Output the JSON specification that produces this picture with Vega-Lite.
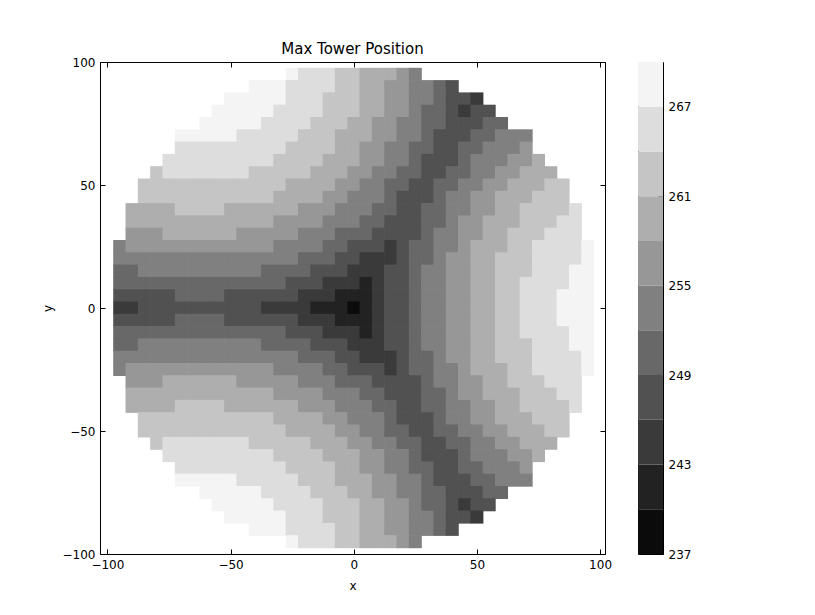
{
"$schema": "https://vega.github.io/schema/vega-lite/v6.json",
"background": "white",
"padding": {"left": 40, "top": 41, "right": 10, "bottom": 10},
"spacing": 33,
"bounds": "flush",
"config": {
"font": "DejaVu Sans",
"view": {"stroke": "black", "strokeWidth": 1},
"axis": {"grid": false, "domain": false, "ticks": true, "tickColor": "black", "tickSize": -5, "tickWidth": 1, "labelColor": "black", "labelFont": "DejaVu Sans", "labelFontSize": 12, "labelPadding": 10, "labelFlush": false, "titleFont": "DejaVu Sans", "titleFontSize": 12, "titleFontWeight": "normal", "titleColor": "black", "zindex": 2},
"title": {"font": "DejaVu Sans", "fontSize": 15, "fontWeight": "normal", "color": "black"}
},
"hconcat": [
{
"width": 505, "height": 492,
"title": {"text": "Max Tower Position", "offset": -1, "anchor": "middle", "frame": "group"},
"data": {"values": [
{"x":-25,"y":95,"v":267},{"x":-20,"y":95,"v":264},{"x":-15,"y":95,"v":264},{"x":-10,"y":95,"v":264},{"x":-5,"y":95,"v":261},{"x":0,"y":95,"v":261},{"x":5,"y":95,"v":258},{"x":10,"y":95,"v":258},{"x":15,"y":95,"v":258},{"x":20,"y":95,"v":255},{"x":25,"y":95,"v":252},
{"x":-40,"y":90,"v":267},{"x":-35,"y":90,"v":267},{"x":-30,"y":90,"v":267},{"x":-25,"y":90,"v":264},{"x":-20,"y":90,"v":264},{"x":-15,"y":90,"v":264},{"x":-10,"y":90,"v":264},{"x":-5,"y":90,"v":261},{"x":0,"y":90,"v":261},{"x":5,"y":90,"v":258},{"x":10,"y":90,"v":258},{"x":15,"y":90,"v":255},{"x":20,"y":90,"v":255},{"x":25,"y":90,"v":252},{"x":30,"y":90,"v":252},{"x":35,"y":90,"v":249},{"x":40,"y":90,"v":246},
{"x":-50,"y":85,"v":267},{"x":-45,"y":85,"v":267},{"x":-40,"y":85,"v":267},{"x":-35,"y":85,"v":267},{"x":-30,"y":85,"v":267},{"x":-25,"y":85,"v":264},{"x":-20,"y":85,"v":264},{"x":-15,"y":85,"v":264},{"x":-10,"y":85,"v":261},{"x":-5,"y":85,"v":261},{"x":0,"y":85,"v":261},{"x":5,"y":85,"v":258},{"x":10,"y":85,"v":258},{"x":15,"y":85,"v":255},{"x":20,"y":85,"v":255},{"x":25,"y":85,"v":252},{"x":30,"y":85,"v":252},{"x":35,"y":85,"v":249},{"x":40,"y":85,"v":246},{"x":45,"y":85,"v":246},{"x":50,"y":85,"v":243},
{"x":-55,"y":80,"v":267},{"x":-50,"y":80,"v":267},{"x":-45,"y":80,"v":267},{"x":-40,"y":80,"v":267},{"x":-35,"y":80,"v":267},{"x":-30,"y":80,"v":264},{"x":-25,"y":80,"v":264},{"x":-20,"y":80,"v":264},{"x":-15,"y":80,"v":264},{"x":-10,"y":80,"v":261},{"x":-5,"y":80,"v":261},{"x":0,"y":80,"v":261},{"x":5,"y":80,"v":258},{"x":10,"y":80,"v":258},{"x":15,"y":80,"v":255},{"x":20,"y":80,"v":255},{"x":25,"y":80,"v":252},{"x":30,"y":80,"v":249},{"x":35,"y":80,"v":249},{"x":40,"y":80,"v":246},{"x":45,"y":80,"v":243},{"x":50,"y":80,"v":246},{"x":55,"y":80,"v":246},
{"x":-60,"y":75,"v":267},{"x":-55,"y":75,"v":267},{"x":-50,"y":75,"v":267},{"x":-45,"y":75,"v":267},{"x":-40,"y":75,"v":267},{"x":-35,"y":75,"v":264},{"x":-30,"y":75,"v":264},{"x":-25,"y":75,"v":264},{"x":-20,"y":75,"v":264},{"x":-15,"y":75,"v":261},{"x":-10,"y":75,"v":261},{"x":-5,"y":75,"v":261},{"x":0,"y":75,"v":258},{"x":5,"y":75,"v":258},{"x":10,"y":75,"v":255},{"x":15,"y":75,"v":255},{"x":20,"y":75,"v":252},{"x":25,"y":75,"v":252},{"x":30,"y":75,"v":249},{"x":35,"y":75,"v":249},{"x":40,"y":75,"v":246},{"x":45,"y":75,"v":246},{"x":50,"y":75,"v":246},{"x":55,"y":75,"v":249},{"x":60,"y":75,"v":249},
{"x":-70,"y":70,"v":267},{"x":-65,"y":70,"v":267},{"x":-60,"y":70,"v":267},{"x":-55,"y":70,"v":267},{"x":-50,"y":70,"v":267},{"x":-45,"y":70,"v":264},{"x":-40,"y":70,"v":264},{"x":-35,"y":70,"v":264},{"x":-30,"y":70,"v":264},{"x":-25,"y":70,"v":264},{"x":-20,"y":70,"v":261},{"x":-15,"y":70,"v":261},{"x":-10,"y":70,"v":261},{"x":-5,"y":70,"v":258},{"x":0,"y":70,"v":258},{"x":5,"y":70,"v":258},{"x":10,"y":70,"v":255},{"x":15,"y":70,"v":255},{"x":20,"y":70,"v":252},{"x":25,"y":70,"v":252},{"x":30,"y":70,"v":249},{"x":35,"y":70,"v":246},{"x":40,"y":70,"v":246},{"x":45,"y":70,"v":246},{"x":50,"y":70,"v":249},{"x":55,"y":70,"v":249},{"x":60,"y":70,"v":252},{"x":65,"y":70,"v":252},{"x":70,"y":70,"v":252},
{"x":-70,"y":65,"v":264},{"x":-65,"y":65,"v":264},{"x":-60,"y":65,"v":264},{"x":-55,"y":65,"v":264},{"x":-50,"y":65,"v":264},{"x":-45,"y":65,"v":264},{"x":-40,"y":65,"v":264},{"x":-35,"y":65,"v":264},{"x":-30,"y":65,"v":264},{"x":-25,"y":65,"v":261},{"x":-20,"y":65,"v":261},{"x":-15,"y":65,"v":261},{"x":-10,"y":65,"v":261},{"x":-5,"y":65,"v":258},{"x":0,"y":65,"v":258},{"x":5,"y":65,"v":255},{"x":10,"y":65,"v":255},{"x":15,"y":65,"v":252},{"x":20,"y":65,"v":252},{"x":25,"y":65,"v":249},{"x":30,"y":65,"v":249},{"x":35,"y":65,"v":246},{"x":40,"y":65,"v":246},{"x":45,"y":65,"v":249},{"x":50,"y":65,"v":249},{"x":55,"y":65,"v":252},{"x":60,"y":65,"v":252},{"x":65,"y":65,"v":252},{"x":70,"y":65,"v":255},
{"x":-75,"y":60,"v":264},{"x":-70,"y":60,"v":264},{"x":-65,"y":60,"v":264},{"x":-60,"y":60,"v":264},{"x":-55,"y":60,"v":264},{"x":-50,"y":60,"v":264},{"x":-45,"y":60,"v":264},{"x":-40,"y":60,"v":264},{"x":-35,"y":60,"v":264},{"x":-30,"y":60,"v":261},{"x":-25,"y":60,"v":261},{"x":-20,"y":60,"v":261},{"x":-15,"y":60,"v":261},{"x":-10,"y":60,"v":258},{"x":-5,"y":60,"v":258},{"x":0,"y":60,"v":258},{"x":5,"y":60,"v":255},{"x":10,"y":60,"v":255},{"x":15,"y":60,"v":252},{"x":20,"y":60,"v":252},{"x":25,"y":60,"v":249},{"x":30,"y":60,"v":246},{"x":35,"y":60,"v":246},{"x":40,"y":60,"v":246},{"x":45,"y":60,"v":249},{"x":50,"y":60,"v":252},{"x":55,"y":60,"v":252},{"x":60,"y":60,"v":252},{"x":65,"y":60,"v":255},{"x":70,"y":60,"v":255},{"x":75,"y":60,"v":258},
{"x":-80,"y":55,"v":261},{"x":-75,"y":55,"v":264},{"x":-70,"y":55,"v":264},{"x":-65,"y":55,"v":264},{"x":-60,"y":55,"v":264},{"x":-55,"y":55,"v":264},{"x":-50,"y":55,"v":264},{"x":-45,"y":55,"v":264},{"x":-40,"y":55,"v":261},{"x":-35,"y":55,"v":261},{"x":-30,"y":55,"v":261},{"x":-25,"y":55,"v":261},{"x":-20,"y":55,"v":261},{"x":-15,"y":55,"v":258},{"x":-10,"y":55,"v":258},{"x":-5,"y":55,"v":258},{"x":0,"y":55,"v":255},{"x":5,"y":55,"v":255},{"x":10,"y":55,"v":252},{"x":15,"y":55,"v":252},{"x":20,"y":55,"v":249},{"x":25,"y":55,"v":249},{"x":30,"y":55,"v":246},{"x":35,"y":55,"v":246},{"x":40,"y":55,"v":249},{"x":45,"y":55,"v":249},{"x":50,"y":55,"v":252},{"x":55,"y":55,"v":252},{"x":60,"y":55,"v":255},{"x":65,"y":55,"v":255},{"x":70,"y":55,"v":258},{"x":75,"y":55,"v":258},{"x":80,"y":55,"v":258},
{"x":-85,"y":50,"v":261},{"x":-80,"y":50,"v":261},{"x":-75,"y":50,"v":261},{"x":-70,"y":50,"v":261},{"x":-65,"y":50,"v":261},{"x":-60,"y":50,"v":261},{"x":-55,"y":50,"v":261},{"x":-50,"y":50,"v":261},{"x":-45,"y":50,"v":261},{"x":-40,"y":50,"v":261},{"x":-35,"y":50,"v":261},{"x":-30,"y":50,"v":261},{"x":-25,"y":50,"v":258},{"x":-20,"y":50,"v":258},{"x":-15,"y":50,"v":258},{"x":-10,"y":50,"v":258},{"x":-5,"y":50,"v":255},{"x":0,"y":50,"v":255},{"x":5,"y":50,"v":252},{"x":10,"y":50,"v":252},{"x":15,"y":50,"v":249},{"x":20,"y":50,"v":249},{"x":25,"y":50,"v":246},{"x":30,"y":50,"v":246},{"x":35,"y":50,"v":249},{"x":40,"y":50,"v":249},{"x":45,"y":50,"v":252},{"x":50,"y":50,"v":252},{"x":55,"y":50,"v":255},{"x":60,"y":50,"v":255},{"x":65,"y":50,"v":258},{"x":70,"y":50,"v":258},{"x":75,"y":50,"v":258},{"x":80,"y":50,"v":261},{"x":85,"y":50,"v":261},
{"x":-85,"y":45,"v":261},{"x":-80,"y":45,"v":261},{"x":-75,"y":45,"v":261},{"x":-70,"y":45,"v":261},{"x":-65,"y":45,"v":261},{"x":-60,"y":45,"v":261},{"x":-55,"y":45,"v":261},{"x":-50,"y":45,"v":261},{"x":-45,"y":45,"v":261},{"x":-40,"y":45,"v":261},{"x":-35,"y":45,"v":261},{"x":-30,"y":45,"v":258},{"x":-25,"y":45,"v":258},{"x":-20,"y":45,"v":258},{"x":-15,"y":45,"v":258},{"x":-10,"y":45,"v":255},{"x":-5,"y":45,"v":255},{"x":0,"y":45,"v":252},{"x":5,"y":45,"v":252},{"x":10,"y":45,"v":252},{"x":15,"y":45,"v":249},{"x":20,"y":45,"v":246},{"x":25,"y":45,"v":246},{"x":30,"y":45,"v":246},{"x":35,"y":45,"v":249},{"x":40,"y":45,"v":252},{"x":45,"y":45,"v":252},{"x":50,"y":45,"v":255},{"x":55,"y":45,"v":255},{"x":60,"y":45,"v":258},{"x":65,"y":45,"v":258},{"x":70,"y":45,"v":258},{"x":75,"y":45,"v":261},{"x":80,"y":45,"v":261},{"x":85,"y":45,"v":261},
{"x":-90,"y":40,"v":258},{"x":-85,"y":40,"v":258},{"x":-80,"y":40,"v":258},{"x":-75,"y":40,"v":258},{"x":-70,"y":40,"v":261},{"x":-65,"y":40,"v":261},{"x":-60,"y":40,"v":261},{"x":-55,"y":40,"v":261},{"x":-50,"y":40,"v":258},{"x":-45,"y":40,"v":258},{"x":-40,"y":40,"v":258},{"x":-35,"y":40,"v":258},{"x":-30,"y":40,"v":258},{"x":-25,"y":40,"v":258},{"x":-20,"y":40,"v":255},{"x":-15,"y":40,"v":255},{"x":-10,"y":40,"v":255},{"x":-5,"y":40,"v":252},{"x":0,"y":40,"v":252},{"x":5,"y":40,"v":252},{"x":10,"y":40,"v":249},{"x":15,"y":40,"v":249},{"x":20,"y":40,"v":246},{"x":25,"y":40,"v":246},{"x":30,"y":40,"v":249},{"x":35,"y":40,"v":249},{"x":40,"y":40,"v":252},{"x":45,"y":40,"v":252},{"x":50,"y":40,"v":255},{"x":55,"y":40,"v":255},{"x":60,"y":40,"v":258},{"x":65,"y":40,"v":258},{"x":70,"y":40,"v":261},{"x":75,"y":40,"v":261},{"x":80,"y":40,"v":261},{"x":85,"y":40,"v":261},{"x":90,"y":40,"v":264},
{"x":-90,"y":35,"v":258},{"x":-85,"y":35,"v":258},{"x":-80,"y":35,"v":258},{"x":-75,"y":35,"v":258},{"x":-70,"y":35,"v":258},{"x":-65,"y":35,"v":258},{"x":-60,"y":35,"v":258},{"x":-55,"y":35,"v":258},{"x":-50,"y":35,"v":258},{"x":-45,"y":35,"v":258},{"x":-40,"y":35,"v":258},{"x":-35,"y":35,"v":258},{"x":-30,"y":35,"v":255},{"x":-25,"y":35,"v":255},{"x":-20,"y":35,"v":255},{"x":-15,"y":35,"v":255},{"x":-10,"y":35,"v":252},{"x":-5,"y":35,"v":252},{"x":0,"y":35,"v":252},{"x":5,"y":35,"v":249},{"x":10,"y":35,"v":249},{"x":15,"y":35,"v":246},{"x":20,"y":35,"v":246},{"x":25,"y":35,"v":246},{"x":30,"y":35,"v":249},{"x":35,"y":35,"v":249},{"x":40,"y":35,"v":252},{"x":45,"y":35,"v":255},{"x":50,"y":35,"v":255},{"x":55,"y":35,"v":258},{"x":60,"y":35,"v":258},{"x":65,"y":35,"v":258},{"x":70,"y":35,"v":261},{"x":75,"y":35,"v":261},{"x":80,"y":35,"v":261},{"x":85,"y":35,"v":264},{"x":90,"y":35,"v":264},
{"x":-90,"y":30,"v":255},{"x":-85,"y":30,"v":255},{"x":-80,"y":30,"v":255},{"x":-75,"y":30,"v":258},{"x":-70,"y":30,"v":258},{"x":-65,"y":30,"v":258},{"x":-60,"y":30,"v":258},{"x":-55,"y":30,"v":258},{"x":-50,"y":30,"v":258},{"x":-45,"y":30,"v":255},{"x":-40,"y":30,"v":255},{"x":-35,"y":30,"v":255},{"x":-30,"y":30,"v":255},{"x":-25,"y":30,"v":255},{"x":-20,"y":30,"v":252},{"x":-15,"y":30,"v":252},{"x":-10,"y":30,"v":252},{"x":-5,"y":30,"v":249},{"x":0,"y":30,"v":249},{"x":5,"y":30,"v":249},{"x":10,"y":30,"v":246},{"x":15,"y":30,"v":246},{"x":20,"y":30,"v":246},{"x":25,"y":30,"v":246},{"x":30,"y":30,"v":249},{"x":35,"y":30,"v":252},{"x":40,"y":30,"v":252},{"x":45,"y":30,"v":255},{"x":50,"y":30,"v":255},{"x":55,"y":30,"v":258},{"x":60,"y":30,"v":258},{"x":65,"y":30,"v":261},{"x":70,"y":30,"v":261},{"x":75,"y":30,"v":261},{"x":80,"y":30,"v":264},{"x":85,"y":30,"v":264},{"x":90,"y":30,"v":264},
{"x":-95,"y":25,"v":252},{"x":-90,"y":25,"v":255},{"x":-85,"y":25,"v":255},{"x":-80,"y":25,"v":255},{"x":-75,"y":25,"v":255},{"x":-70,"y":25,"v":255},{"x":-65,"y":25,"v":255},{"x":-60,"y":25,"v":255},{"x":-55,"y":25,"v":255},{"x":-50,"y":25,"v":255},{"x":-45,"y":25,"v":255},{"x":-40,"y":25,"v":255},{"x":-35,"y":25,"v":255},{"x":-30,"y":25,"v":252},{"x":-25,"y":25,"v":252},{"x":-20,"y":25,"v":252},{"x":-15,"y":25,"v":252},{"x":-10,"y":25,"v":249},{"x":-5,"y":25,"v":249},{"x":0,"y":25,"v":246},{"x":5,"y":25,"v":246},{"x":10,"y":25,"v":246},{"x":15,"y":25,"v":243},{"x":20,"y":25,"v":246},{"x":25,"y":25,"v":249},{"x":30,"y":25,"v":249},{"x":35,"y":25,"v":252},{"x":40,"y":25,"v":252},{"x":45,"y":25,"v":255},{"x":50,"y":25,"v":258},{"x":55,"y":25,"v":258},{"x":60,"y":25,"v":258},{"x":65,"y":25,"v":261},{"x":70,"y":25,"v":261},{"x":75,"y":25,"v":264},{"x":80,"y":25,"v":264},{"x":85,"y":25,"v":264},{"x":90,"y":25,"v":264},{"x":95,"y":25,"v":267},
{"x":-95,"y":20,"v":252},{"x":-90,"y":20,"v":252},{"x":-85,"y":20,"v":252},{"x":-80,"y":20,"v":252},{"x":-75,"y":20,"v":252},{"x":-70,"y":20,"v":252},{"x":-65,"y":20,"v":252},{"x":-60,"y":20,"v":252},{"x":-55,"y":20,"v":252},{"x":-50,"y":20,"v":252},{"x":-45,"y":20,"v":252},{"x":-40,"y":20,"v":252},{"x":-35,"y":20,"v":252},{"x":-30,"y":20,"v":252},{"x":-25,"y":20,"v":252},{"x":-20,"y":20,"v":249},{"x":-15,"y":20,"v":249},{"x":-10,"y":20,"v":249},{"x":-5,"y":20,"v":246},{"x":0,"y":20,"v":246},{"x":5,"y":20,"v":243},{"x":10,"y":20,"v":243},{"x":15,"y":20,"v":243},{"x":20,"y":20,"v":246},{"x":25,"y":20,"v":249},{"x":30,"y":20,"v":249},{"x":35,"y":20,"v":252},{"x":40,"y":20,"v":255},{"x":45,"y":20,"v":255},{"x":50,"y":20,"v":258},{"x":55,"y":20,"v":258},{"x":60,"y":20,"v":261},{"x":65,"y":20,"v":261},{"x":70,"y":20,"v":261},{"x":75,"y":20,"v":264},{"x":80,"y":20,"v":264},{"x":85,"y":20,"v":264},{"x":90,"y":20,"v":264},{"x":95,"y":20,"v":267},
{"x":-95,"y":15,"v":249},{"x":-90,"y":15,"v":249},{"x":-85,"y":15,"v":252},{"x":-80,"y":15,"v":252},{"x":-75,"y":15,"v":252},{"x":-70,"y":15,"v":252},{"x":-65,"y":15,"v":252},{"x":-60,"y":15,"v":252},{"x":-55,"y":15,"v":252},{"x":-50,"y":15,"v":252},{"x":-45,"y":15,"v":252},{"x":-40,"y":15,"v":252},{"x":-35,"y":15,"v":249},{"x":-30,"y":15,"v":249},{"x":-25,"y":15,"v":249},{"x":-20,"y":15,"v":249},{"x":-15,"y":15,"v":246},{"x":-10,"y":15,"v":246},{"x":-5,"y":15,"v":246},{"x":0,"y":15,"v":243},{"x":5,"y":15,"v":243},{"x":10,"y":15,"v":243},{"x":15,"y":15,"v":246},{"x":20,"y":15,"v":246},{"x":25,"y":15,"v":249},{"x":30,"y":15,"v":252},{"x":35,"y":15,"v":252},{"x":40,"y":15,"v":255},{"x":45,"y":15,"v":255},{"x":50,"y":15,"v":258},{"x":55,"y":15,"v":258},{"x":60,"y":15,"v":261},{"x":65,"y":15,"v":261},{"x":70,"y":15,"v":261},{"x":75,"y":15,"v":264},{"x":80,"y":15,"v":264},{"x":85,"y":15,"v":264},{"x":90,"y":15,"v":267},{"x":95,"y":15,"v":267},
{"x":-95,"y":10,"v":249},{"x":-90,"y":10,"v":249},{"x":-85,"y":10,"v":249},{"x":-80,"y":10,"v":249},{"x":-75,"y":10,"v":249},{"x":-70,"y":10,"v":249},{"x":-65,"y":10,"v":249},{"x":-60,"y":10,"v":249},{"x":-55,"y":10,"v":249},{"x":-50,"y":10,"v":249},{"x":-45,"y":10,"v":249},{"x":-40,"y":10,"v":249},{"x":-35,"y":10,"v":249},{"x":-30,"y":10,"v":249},{"x":-25,"y":10,"v":246},{"x":-20,"y":10,"v":246},{"x":-15,"y":10,"v":246},{"x":-10,"y":10,"v":243},{"x":-5,"y":10,"v":243},{"x":0,"y":10,"v":243},{"x":5,"y":10,"v":240},{"x":10,"y":10,"v":243},{"x":15,"y":10,"v":246},{"x":20,"y":10,"v":246},{"x":25,"y":10,"v":249},{"x":30,"y":10,"v":252},{"x":35,"y":10,"v":252},{"x":40,"y":10,"v":255},{"x":45,"y":10,"v":255},{"x":50,"y":10,"v":258},{"x":55,"y":10,"v":258},{"x":60,"y":10,"v":261},{"x":65,"y":10,"v":261},{"x":70,"y":10,"v":264},{"x":75,"y":10,"v":264},{"x":80,"y":10,"v":264},{"x":85,"y":10,"v":264},{"x":90,"y":10,"v":267},{"x":95,"y":10,"v":267},
{"x":-95,"y":5,"v":246},{"x":-90,"y":5,"v":246},{"x":-85,"y":5,"v":246},{"x":-80,"y":5,"v":246},{"x":-75,"y":5,"v":246},{"x":-70,"y":5,"v":249},{"x":-65,"y":5,"v":249},{"x":-60,"y":5,"v":249},{"x":-55,"y":5,"v":249},{"x":-50,"y":5,"v":246},{"x":-45,"y":5,"v":246},{"x":-40,"y":5,"v":246},{"x":-35,"y":5,"v":246},{"x":-30,"y":5,"v":246},{"x":-25,"y":5,"v":246},{"x":-20,"y":5,"v":243},{"x":-15,"y":5,"v":243},{"x":-10,"y":5,"v":243},{"x":-5,"y":5,"v":240},{"x":0,"y":5,"v":240},{"x":5,"y":5,"v":240},{"x":10,"y":5,"v":243},{"x":15,"y":5,"v":246},{"x":20,"y":5,"v":246},{"x":25,"y":5,"v":249},{"x":30,"y":5,"v":252},{"x":35,"y":5,"v":252},{"x":40,"y":5,"v":255},{"x":45,"y":5,"v":255},{"x":50,"y":5,"v":258},{"x":55,"y":5,"v":258},{"x":60,"y":5,"v":261},{"x":65,"y":5,"v":261},{"x":70,"y":5,"v":264},{"x":75,"y":5,"v":264},{"x":80,"y":5,"v":264},{"x":85,"y":5,"v":267},{"x":90,"y":5,"v":267},{"x":95,"y":5,"v":267},
{"x":-95,"y":0,"v":243},{"x":-90,"y":0,"v":243},{"x":-85,"y":0,"v":246},{"x":-80,"y":0,"v":246},{"x":-75,"y":0,"v":246},{"x":-70,"y":0,"v":246},{"x":-65,"y":0,"v":246},{"x":-60,"y":0,"v":246},{"x":-55,"y":0,"v":246},{"x":-50,"y":0,"v":246},{"x":-45,"y":0,"v":246},{"x":-40,"y":0,"v":246},{"x":-35,"y":0,"v":243},{"x":-30,"y":0,"v":243},{"x":-25,"y":0,"v":243},{"x":-20,"y":0,"v":243},{"x":-15,"y":0,"v":240},{"x":-10,"y":0,"v":240},{"x":-5,"y":0,"v":240},{"x":0,"y":0,"v":237},{"x":5,"y":0,"v":240},{"x":10,"y":0,"v":243},{"x":15,"y":0,"v":246},{"x":20,"y":0,"v":246},{"x":25,"y":0,"v":249},{"x":30,"y":0,"v":252},{"x":35,"y":0,"v":252},{"x":40,"y":0,"v":255},{"x":45,"y":0,"v":255},{"x":50,"y":0,"v":258},{"x":55,"y":0,"v":258},{"x":60,"y":0,"v":261},{"x":65,"y":0,"v":261},{"x":70,"y":0,"v":264},{"x":75,"y":0,"v":264},{"x":80,"y":0,"v":264},{"x":85,"y":0,"v":267},{"x":90,"y":0,"v":267},{"x":95,"y":0,"v":267},
{"x":-95,"y":-5,"v":246},{"x":-90,"y":-5,"v":246},{"x":-85,"y":-5,"v":246},{"x":-80,"y":-5,"v":246},{"x":-75,"y":-5,"v":246},{"x":-70,"y":-5,"v":249},{"x":-65,"y":-5,"v":249},{"x":-60,"y":-5,"v":249},{"x":-55,"y":-5,"v":249},{"x":-50,"y":-5,"v":246},{"x":-45,"y":-5,"v":246},{"x":-40,"y":-5,"v":246},{"x":-35,"y":-5,"v":246},{"x":-30,"y":-5,"v":246},{"x":-25,"y":-5,"v":246},{"x":-20,"y":-5,"v":243},{"x":-15,"y":-5,"v":243},{"x":-10,"y":-5,"v":243},{"x":-5,"y":-5,"v":240},{"x":0,"y":-5,"v":240},{"x":5,"y":-5,"v":240},{"x":10,"y":-5,"v":243},{"x":15,"y":-5,"v":246},{"x":20,"y":-5,"v":246},{"x":25,"y":-5,"v":249},{"x":30,"y":-5,"v":252},{"x":35,"y":-5,"v":252},{"x":40,"y":-5,"v":255},{"x":45,"y":-5,"v":255},{"x":50,"y":-5,"v":258},{"x":55,"y":-5,"v":258},{"x":60,"y":-5,"v":261},{"x":65,"y":-5,"v":261},{"x":70,"y":-5,"v":264},{"x":75,"y":-5,"v":264},{"x":80,"y":-5,"v":264},{"x":85,"y":-5,"v":267},{"x":90,"y":-5,"v":267},{"x":95,"y":-5,"v":267},
{"x":-95,"y":-10,"v":249},{"x":-90,"y":-10,"v":249},{"x":-85,"y":-10,"v":249},{"x":-80,"y":-10,"v":249},{"x":-75,"y":-10,"v":249},{"x":-70,"y":-10,"v":249},{"x":-65,"y":-10,"v":249},{"x":-60,"y":-10,"v":249},{"x":-55,"y":-10,"v":249},{"x":-50,"y":-10,"v":249},{"x":-45,"y":-10,"v":249},{"x":-40,"y":-10,"v":249},{"x":-35,"y":-10,"v":249},{"x":-30,"y":-10,"v":249},{"x":-25,"y":-10,"v":246},{"x":-20,"y":-10,"v":246},{"x":-15,"y":-10,"v":246},{"x":-10,"y":-10,"v":243},{"x":-5,"y":-10,"v":243},{"x":0,"y":-10,"v":243},{"x":5,"y":-10,"v":240},{"x":10,"y":-10,"v":243},{"x":15,"y":-10,"v":246},{"x":20,"y":-10,"v":246},{"x":25,"y":-10,"v":249},{"x":30,"y":-10,"v":252},{"x":35,"y":-10,"v":252},{"x":40,"y":-10,"v":255},{"x":45,"y":-10,"v":255},{"x":50,"y":-10,"v":258},{"x":55,"y":-10,"v":258},{"x":60,"y":-10,"v":261},{"x":65,"y":-10,"v":261},{"x":70,"y":-10,"v":264},{"x":75,"y":-10,"v":264},{"x":80,"y":-10,"v":264},{"x":85,"y":-10,"v":264},{"x":90,"y":-10,"v":267},{"x":95,"y":-10,"v":267},
{"x":-95,"y":-15,"v":249},{"x":-90,"y":-15,"v":249},{"x":-85,"y":-15,"v":252},{"x":-80,"y":-15,"v":252},{"x":-75,"y":-15,"v":252},{"x":-70,"y":-15,"v":252},{"x":-65,"y":-15,"v":252},{"x":-60,"y":-15,"v":252},{"x":-55,"y":-15,"v":252},{"x":-50,"y":-15,"v":252},{"x":-45,"y":-15,"v":252},{"x":-40,"y":-15,"v":252},{"x":-35,"y":-15,"v":249},{"x":-30,"y":-15,"v":249},{"x":-25,"y":-15,"v":249},{"x":-20,"y":-15,"v":249},{"x":-15,"y":-15,"v":246},{"x":-10,"y":-15,"v":246},{"x":-5,"y":-15,"v":246},{"x":0,"y":-15,"v":243},{"x":5,"y":-15,"v":243},{"x":10,"y":-15,"v":243},{"x":15,"y":-15,"v":246},{"x":20,"y":-15,"v":246},{"x":25,"y":-15,"v":249},{"x":30,"y":-15,"v":252},{"x":35,"y":-15,"v":252},{"x":40,"y":-15,"v":255},{"x":45,"y":-15,"v":255},{"x":50,"y":-15,"v":258},{"x":55,"y":-15,"v":258},{"x":60,"y":-15,"v":261},{"x":65,"y":-15,"v":261},{"x":70,"y":-15,"v":261},{"x":75,"y":-15,"v":264},{"x":80,"y":-15,"v":264},{"x":85,"y":-15,"v":264},{"x":90,"y":-15,"v":267},{"x":95,"y":-15,"v":267},
{"x":-95,"y":-20,"v":252},{"x":-90,"y":-20,"v":252},{"x":-85,"y":-20,"v":252},{"x":-80,"y":-20,"v":252},{"x":-75,"y":-20,"v":252},{"x":-70,"y":-20,"v":252},{"x":-65,"y":-20,"v":252},{"x":-60,"y":-20,"v":252},{"x":-55,"y":-20,"v":252},{"x":-50,"y":-20,"v":252},{"x":-45,"y":-20,"v":252},{"x":-40,"y":-20,"v":252},{"x":-35,"y":-20,"v":252},{"x":-30,"y":-20,"v":252},{"x":-25,"y":-20,"v":252},{"x":-20,"y":-20,"v":249},{"x":-15,"y":-20,"v":249},{"x":-10,"y":-20,"v":249},{"x":-5,"y":-20,"v":246},{"x":0,"y":-20,"v":246},{"x":5,"y":-20,"v":243},{"x":10,"y":-20,"v":243},{"x":15,"y":-20,"v":243},{"x":20,"y":-20,"v":246},{"x":25,"y":-20,"v":249},{"x":30,"y":-20,"v":249},{"x":35,"y":-20,"v":252},{"x":40,"y":-20,"v":255},{"x":45,"y":-20,"v":255},{"x":50,"y":-20,"v":258},{"x":55,"y":-20,"v":258},{"x":60,"y":-20,"v":261},{"x":65,"y":-20,"v":261},{"x":70,"y":-20,"v":261},{"x":75,"y":-20,"v":264},{"x":80,"y":-20,"v":264},{"x":85,"y":-20,"v":264},{"x":90,"y":-20,"v":264},{"x":95,"y":-20,"v":267},
{"x":-95,"y":-25,"v":252},{"x":-90,"y":-25,"v":255},{"x":-85,"y":-25,"v":255},{"x":-80,"y":-25,"v":255},{"x":-75,"y":-25,"v":255},{"x":-70,"y":-25,"v":255},{"x":-65,"y":-25,"v":255},{"x":-60,"y":-25,"v":255},{"x":-55,"y":-25,"v":255},{"x":-50,"y":-25,"v":255},{"x":-45,"y":-25,"v":255},{"x":-40,"y":-25,"v":255},{"x":-35,"y":-25,"v":255},{"x":-30,"y":-25,"v":252},{"x":-25,"y":-25,"v":252},{"x":-20,"y":-25,"v":252},{"x":-15,"y":-25,"v":252},{"x":-10,"y":-25,"v":249},{"x":-5,"y":-25,"v":249},{"x":0,"y":-25,"v":246},{"x":5,"y":-25,"v":246},{"x":10,"y":-25,"v":246},{"x":15,"y":-25,"v":243},{"x":20,"y":-25,"v":246},{"x":25,"y":-25,"v":249},{"x":30,"y":-25,"v":249},{"x":35,"y":-25,"v":252},{"x":40,"y":-25,"v":252},{"x":45,"y":-25,"v":255},{"x":50,"y":-25,"v":258},{"x":55,"y":-25,"v":258},{"x":60,"y":-25,"v":258},{"x":65,"y":-25,"v":261},{"x":70,"y":-25,"v":261},{"x":75,"y":-25,"v":264},{"x":80,"y":-25,"v":264},{"x":85,"y":-25,"v":264},{"x":90,"y":-25,"v":264},{"x":95,"y":-25,"v":267},
{"x":-90,"y":-30,"v":255},{"x":-85,"y":-30,"v":255},{"x":-80,"y":-30,"v":255},{"x":-75,"y":-30,"v":258},{"x":-70,"y":-30,"v":258},{"x":-65,"y":-30,"v":258},{"x":-60,"y":-30,"v":258},{"x":-55,"y":-30,"v":258},{"x":-50,"y":-30,"v":258},{"x":-45,"y":-30,"v":255},{"x":-40,"y":-30,"v":255},{"x":-35,"y":-30,"v":255},{"x":-30,"y":-30,"v":255},{"x":-25,"y":-30,"v":255},{"x":-20,"y":-30,"v":252},{"x":-15,"y":-30,"v":252},{"x":-10,"y":-30,"v":252},{"x":-5,"y":-30,"v":249},{"x":0,"y":-30,"v":249},{"x":5,"y":-30,"v":249},{"x":10,"y":-30,"v":246},{"x":15,"y":-30,"v":246},{"x":20,"y":-30,"v":246},{"x":25,"y":-30,"v":246},{"x":30,"y":-30,"v":249},{"x":35,"y":-30,"v":252},{"x":40,"y":-30,"v":252},{"x":45,"y":-30,"v":255},{"x":50,"y":-30,"v":255},{"x":55,"y":-30,"v":258},{"x":60,"y":-30,"v":258},{"x":65,"y":-30,"v":261},{"x":70,"y":-30,"v":261},{"x":75,"y":-30,"v":261},{"x":80,"y":-30,"v":264},{"x":85,"y":-30,"v":264},{"x":90,"y":-30,"v":264},
{"x":-90,"y":-35,"v":258},{"x":-85,"y":-35,"v":258},{"x":-80,"y":-35,"v":258},{"x":-75,"y":-35,"v":258},{"x":-70,"y":-35,"v":258},{"x":-65,"y":-35,"v":258},{"x":-60,"y":-35,"v":258},{"x":-55,"y":-35,"v":258},{"x":-50,"y":-35,"v":258},{"x":-45,"y":-35,"v":258},{"x":-40,"y":-35,"v":258},{"x":-35,"y":-35,"v":258},{"x":-30,"y":-35,"v":255},{"x":-25,"y":-35,"v":255},{"x":-20,"y":-35,"v":255},{"x":-15,"y":-35,"v":255},{"x":-10,"y":-35,"v":252},{"x":-5,"y":-35,"v":252},{"x":0,"y":-35,"v":252},{"x":5,"y":-35,"v":249},{"x":10,"y":-35,"v":249},{"x":15,"y":-35,"v":246},{"x":20,"y":-35,"v":246},{"x":25,"y":-35,"v":246},{"x":30,"y":-35,"v":249},{"x":35,"y":-35,"v":249},{"x":40,"y":-35,"v":252},{"x":45,"y":-35,"v":255},{"x":50,"y":-35,"v":255},{"x":55,"y":-35,"v":258},{"x":60,"y":-35,"v":258},{"x":65,"y":-35,"v":258},{"x":70,"y":-35,"v":261},{"x":75,"y":-35,"v":261},{"x":80,"y":-35,"v":261},{"x":85,"y":-35,"v":264},{"x":90,"y":-35,"v":264},
{"x":-90,"y":-40,"v":258},{"x":-85,"y":-40,"v":258},{"x":-80,"y":-40,"v":258},{"x":-75,"y":-40,"v":258},{"x":-70,"y":-40,"v":261},{"x":-65,"y":-40,"v":261},{"x":-60,"y":-40,"v":261},{"x":-55,"y":-40,"v":261},{"x":-50,"y":-40,"v":258},{"x":-45,"y":-40,"v":258},{"x":-40,"y":-40,"v":258},{"x":-35,"y":-40,"v":258},{"x":-30,"y":-40,"v":258},{"x":-25,"y":-40,"v":258},{"x":-20,"y":-40,"v":255},{"x":-15,"y":-40,"v":255},{"x":-10,"y":-40,"v":255},{"x":-5,"y":-40,"v":252},{"x":0,"y":-40,"v":252},{"x":5,"y":-40,"v":252},{"x":10,"y":-40,"v":249},{"x":15,"y":-40,"v":249},{"x":20,"y":-40,"v":246},{"x":25,"y":-40,"v":246},{"x":30,"y":-40,"v":249},{"x":35,"y":-40,"v":249},{"x":40,"y":-40,"v":252},{"x":45,"y":-40,"v":252},{"x":50,"y":-40,"v":255},{"x":55,"y":-40,"v":255},{"x":60,"y":-40,"v":258},{"x":65,"y":-40,"v":258},{"x":70,"y":-40,"v":261},{"x":75,"y":-40,"v":261},{"x":80,"y":-40,"v":261},{"x":85,"y":-40,"v":261},{"x":90,"y":-40,"v":264},
{"x":-85,"y":-45,"v":261},{"x":-80,"y":-45,"v":261},{"x":-75,"y":-45,"v":261},{"x":-70,"y":-45,"v":261},{"x":-65,"y":-45,"v":261},{"x":-60,"y":-45,"v":261},{"x":-55,"y":-45,"v":261},{"x":-50,"y":-45,"v":261},{"x":-45,"y":-45,"v":261},{"x":-40,"y":-45,"v":261},{"x":-35,"y":-45,"v":261},{"x":-30,"y":-45,"v":258},{"x":-25,"y":-45,"v":258},{"x":-20,"y":-45,"v":258},{"x":-15,"y":-45,"v":258},{"x":-10,"y":-45,"v":255},{"x":-5,"y":-45,"v":255},{"x":0,"y":-45,"v":252},{"x":5,"y":-45,"v":252},{"x":10,"y":-45,"v":252},{"x":15,"y":-45,"v":249},{"x":20,"y":-45,"v":246},{"x":25,"y":-45,"v":246},{"x":30,"y":-45,"v":246},{"x":35,"y":-45,"v":249},{"x":40,"y":-45,"v":252},{"x":45,"y":-45,"v":252},{"x":50,"y":-45,"v":255},{"x":55,"y":-45,"v":255},{"x":60,"y":-45,"v":258},{"x":65,"y":-45,"v":258},{"x":70,"y":-45,"v":258},{"x":75,"y":-45,"v":261},{"x":80,"y":-45,"v":261},{"x":85,"y":-45,"v":261},
{"x":-85,"y":-50,"v":261},{"x":-80,"y":-50,"v":261},{"x":-75,"y":-50,"v":261},{"x":-70,"y":-50,"v":261},{"x":-65,"y":-50,"v":261},{"x":-60,"y":-50,"v":261},{"x":-55,"y":-50,"v":261},{"x":-50,"y":-50,"v":261},{"x":-45,"y":-50,"v":261},{"x":-40,"y":-50,"v":261},{"x":-35,"y":-50,"v":261},{"x":-30,"y":-50,"v":261},{"x":-25,"y":-50,"v":258},{"x":-20,"y":-50,"v":258},{"x":-15,"y":-50,"v":258},{"x":-10,"y":-50,"v":258},{"x":-5,"y":-50,"v":255},{"x":0,"y":-50,"v":255},{"x":5,"y":-50,"v":252},{"x":10,"y":-50,"v":252},{"x":15,"y":-50,"v":249},{"x":20,"y":-50,"v":249},{"x":25,"y":-50,"v":246},{"x":30,"y":-50,"v":246},{"x":35,"y":-50,"v":249},{"x":40,"y":-50,"v":249},{"x":45,"y":-50,"v":252},{"x":50,"y":-50,"v":252},{"x":55,"y":-50,"v":255},{"x":60,"y":-50,"v":255},{"x":65,"y":-50,"v":258},{"x":70,"y":-50,"v":258},{"x":75,"y":-50,"v":258},{"x":80,"y":-50,"v":261},{"x":85,"y":-50,"v":261},
{"x":-80,"y":-55,"v":261},{"x":-75,"y":-55,"v":264},{"x":-70,"y":-55,"v":264},{"x":-65,"y":-55,"v":264},{"x":-60,"y":-55,"v":264},{"x":-55,"y":-55,"v":264},{"x":-50,"y":-55,"v":264},{"x":-45,"y":-55,"v":264},{"x":-40,"y":-55,"v":261},{"x":-35,"y":-55,"v":261},{"x":-30,"y":-55,"v":261},{"x":-25,"y":-55,"v":261},{"x":-20,"y":-55,"v":261},{"x":-15,"y":-55,"v":258},{"x":-10,"y":-55,"v":258},{"x":-5,"y":-55,"v":258},{"x":0,"y":-55,"v":255},{"x":5,"y":-55,"v":255},{"x":10,"y":-55,"v":252},{"x":15,"y":-55,"v":252},{"x":20,"y":-55,"v":249},{"x":25,"y":-55,"v":249},{"x":30,"y":-55,"v":246},{"x":35,"y":-55,"v":246},{"x":40,"y":-55,"v":249},{"x":45,"y":-55,"v":249},{"x":50,"y":-55,"v":252},{"x":55,"y":-55,"v":252},{"x":60,"y":-55,"v":255},{"x":65,"y":-55,"v":255},{"x":70,"y":-55,"v":258},{"x":75,"y":-55,"v":258},{"x":80,"y":-55,"v":258},
{"x":-75,"y":-60,"v":264},{"x":-70,"y":-60,"v":264},{"x":-65,"y":-60,"v":264},{"x":-60,"y":-60,"v":264},{"x":-55,"y":-60,"v":264},{"x":-50,"y":-60,"v":264},{"x":-45,"y":-60,"v":264},{"x":-40,"y":-60,"v":264},{"x":-35,"y":-60,"v":264},{"x":-30,"y":-60,"v":261},{"x":-25,"y":-60,"v":261},{"x":-20,"y":-60,"v":261},{"x":-15,"y":-60,"v":261},{"x":-10,"y":-60,"v":258},{"x":-5,"y":-60,"v":258},{"x":0,"y":-60,"v":258},{"x":5,"y":-60,"v":255},{"x":10,"y":-60,"v":255},{"x":15,"y":-60,"v":252},{"x":20,"y":-60,"v":252},{"x":25,"y":-60,"v":249},{"x":30,"y":-60,"v":246},{"x":35,"y":-60,"v":246},{"x":40,"y":-60,"v":246},{"x":45,"y":-60,"v":249},{"x":50,"y":-60,"v":252},{"x":55,"y":-60,"v":252},{"x":60,"y":-60,"v":252},{"x":65,"y":-60,"v":255},{"x":70,"y":-60,"v":255},{"x":75,"y":-60,"v":258},
{"x":-70,"y":-65,"v":264},{"x":-65,"y":-65,"v":264},{"x":-60,"y":-65,"v":264},{"x":-55,"y":-65,"v":264},{"x":-50,"y":-65,"v":264},{"x":-45,"y":-65,"v":264},{"x":-40,"y":-65,"v":264},{"x":-35,"y":-65,"v":264},{"x":-30,"y":-65,"v":264},{"x":-25,"y":-65,"v":261},{"x":-20,"y":-65,"v":261},{"x":-15,"y":-65,"v":261},{"x":-10,"y":-65,"v":261},{"x":-5,"y":-65,"v":258},{"x":0,"y":-65,"v":258},{"x":5,"y":-65,"v":255},{"x":10,"y":-65,"v":255},{"x":15,"y":-65,"v":252},{"x":20,"y":-65,"v":252},{"x":25,"y":-65,"v":249},{"x":30,"y":-65,"v":249},{"x":35,"y":-65,"v":246},{"x":40,"y":-65,"v":246},{"x":45,"y":-65,"v":249},{"x":50,"y":-65,"v":249},{"x":55,"y":-65,"v":252},{"x":60,"y":-65,"v":252},{"x":65,"y":-65,"v":252},{"x":70,"y":-65,"v":255},
{"x":-70,"y":-70,"v":267},{"x":-65,"y":-70,"v":267},{"x":-60,"y":-70,"v":267},{"x":-55,"y":-70,"v":267},{"x":-50,"y":-70,"v":267},{"x":-45,"y":-70,"v":264},{"x":-40,"y":-70,"v":264},{"x":-35,"y":-70,"v":264},{"x":-30,"y":-70,"v":264},{"x":-25,"y":-70,"v":264},{"x":-20,"y":-70,"v":261},{"x":-15,"y":-70,"v":261},{"x":-10,"y":-70,"v":261},{"x":-5,"y":-70,"v":258},{"x":0,"y":-70,"v":258},{"x":5,"y":-70,"v":258},{"x":10,"y":-70,"v":255},{"x":15,"y":-70,"v":255},{"x":20,"y":-70,"v":252},{"x":25,"y":-70,"v":252},{"x":30,"y":-70,"v":249},{"x":35,"y":-70,"v":246},{"x":40,"y":-70,"v":246},{"x":45,"y":-70,"v":246},{"x":50,"y":-70,"v":249},{"x":55,"y":-70,"v":249},{"x":60,"y":-70,"v":252},{"x":65,"y":-70,"v":252},{"x":70,"y":-70,"v":252},
{"x":-60,"y":-75,"v":267},{"x":-55,"y":-75,"v":267},{"x":-50,"y":-75,"v":267},{"x":-45,"y":-75,"v":267},{"x":-40,"y":-75,"v":267},{"x":-35,"y":-75,"v":264},{"x":-30,"y":-75,"v":264},{"x":-25,"y":-75,"v":264},{"x":-20,"y":-75,"v":264},{"x":-15,"y":-75,"v":261},{"x":-10,"y":-75,"v":261},{"x":-5,"y":-75,"v":261},{"x":0,"y":-75,"v":258},{"x":5,"y":-75,"v":258},{"x":10,"y":-75,"v":255},{"x":15,"y":-75,"v":255},{"x":20,"y":-75,"v":252},{"x":25,"y":-75,"v":252},{"x":30,"y":-75,"v":249},{"x":35,"y":-75,"v":249},{"x":40,"y":-75,"v":246},{"x":45,"y":-75,"v":246},{"x":50,"y":-75,"v":246},{"x":55,"y":-75,"v":249},{"x":60,"y":-75,"v":249},
{"x":-55,"y":-80,"v":267},{"x":-50,"y":-80,"v":267},{"x":-45,"y":-80,"v":267},{"x":-40,"y":-80,"v":267},{"x":-35,"y":-80,"v":267},{"x":-30,"y":-80,"v":264},{"x":-25,"y":-80,"v":264},{"x":-20,"y":-80,"v":264},{"x":-15,"y":-80,"v":264},{"x":-10,"y":-80,"v":261},{"x":-5,"y":-80,"v":261},{"x":0,"y":-80,"v":261},{"x":5,"y":-80,"v":258},{"x":10,"y":-80,"v":258},{"x":15,"y":-80,"v":255},{"x":20,"y":-80,"v":255},{"x":25,"y":-80,"v":252},{"x":30,"y":-80,"v":249},{"x":35,"y":-80,"v":249},{"x":40,"y":-80,"v":246},{"x":45,"y":-80,"v":243},{"x":50,"y":-80,"v":246},{"x":55,"y":-80,"v":246},
{"x":-50,"y":-85,"v":267},{"x":-45,"y":-85,"v":267},{"x":-40,"y":-85,"v":267},{"x":-35,"y":-85,"v":267},{"x":-30,"y":-85,"v":267},{"x":-25,"y":-85,"v":264},{"x":-20,"y":-85,"v":264},{"x":-15,"y":-85,"v":264},{"x":-10,"y":-85,"v":261},{"x":-5,"y":-85,"v":261},{"x":0,"y":-85,"v":261},{"x":5,"y":-85,"v":258},{"x":10,"y":-85,"v":258},{"x":15,"y":-85,"v":255},{"x":20,"y":-85,"v":255},{"x":25,"y":-85,"v":252},{"x":30,"y":-85,"v":252},{"x":35,"y":-85,"v":249},{"x":40,"y":-85,"v":246},{"x":45,"y":-85,"v":246},{"x":50,"y":-85,"v":243},
{"x":-40,"y":-90,"v":267},{"x":-35,"y":-90,"v":267},{"x":-30,"y":-90,"v":267},{"x":-25,"y":-90,"v":264},{"x":-20,"y":-90,"v":264},{"x":-15,"y":-90,"v":264},{"x":-10,"y":-90,"v":264},{"x":-5,"y":-90,"v":261},{"x":0,"y":-90,"v":261},{"x":5,"y":-90,"v":258},{"x":10,"y":-90,"v":258},{"x":15,"y":-90,"v":255},{"x":20,"y":-90,"v":255},{"x":25,"y":-90,"v":252},{"x":30,"y":-90,"v":252},{"x":35,"y":-90,"v":249},{"x":40,"y":-90,"v":246},
{"x":-25,"y":-95,"v":267},{"x":-20,"y":-95,"v":264},{"x":-15,"y":-95,"v":264},{"x":-10,"y":-95,"v":264},{"x":-5,"y":-95,"v":261},{"x":0,"y":-95,"v":261},{"x":5,"y":-95,"v":258},{"x":10,"y":-95,"v":258},{"x":15,"y":-95,"v":258},{"x":20,"y":-95,"v":255},{"x":25,"y":-95,"v":252}
]},
"layer": [
{
"mark": {"type": "square", "size": 169, "opacity": 1, "strokeWidth": 0},
"encoding": {
"x": {"field": "x", "type": "quantitative", "scale": {"domain": [-103, 102], "nice": false, "zero": false}, "axis": {"values": [-100, -50, 0, 50, 100], "title": "x", "titlePadding": 10}},
"y": {"field": "y", "type": "quantitative", "scale": {"domain": [-100, 100], "nice": false, "zero": false}, "axis": {"values": [-100, -50, 0, 50, 100], "title": "y", "titlePadding": 8}},
"color": {"field": "v", "type": "quantitative", "scale": {"type": "threshold", "domain": [240, 243, 246, 249, 252, 255, 258, 261, 264, 267], "range": ["#0b0b0b", "#222222", "#3a3a3a", "#515151", "#686868", "#808080", "#979797", "#aeaeae", "#c5c5c5", "#dddddd", "#f4f4f4"]}, "legend": null}
}
},
{
"data": {"values": [{"x": 0, "y": 0}]},
"mark": {"type": "point", "opacity": 0},
"encoding": {
"x": {"field": "x", "type": "quantitative", "axis": {"orient": "top", "values": [-100, -50, 0, 50, 100], "labels": false, "title": null}},
"y": {"field": "y", "type": "quantitative", "axis": {"orient": "right", "values": [-100, -50, 0, 50, 100], "labels": false, "title": null}}
}
}
],
"resolve": {"axis": {"x": "independent", "y": "independent"}}
},
{
"width": 25, "height": 492,
"data": {"values": [
{"lo": 237, "hi": 240}, {"lo": 240, "hi": 243}, {"lo": 243, "hi": 246}, {"lo": 246, "hi": 249}, {"lo": 249, "hi": 252}, {"lo": 252, "hi": 255}, {"lo": 255, "hi": 258}, {"lo": 258, "hi": 261}, {"lo": 261, "hi": 264}, {"lo": 264, "hi": 267}, {"lo": 267, "hi": 270}
]},
"mark": {"type": "rect"},
"encoding": {
"x": {"value": 0},
"x2": {"value": "width"},
"y": {"field": "lo", "type": "quantitative", "scale": {"domain": [237, 270], "nice": false, "zero": false}, "axis": {"orient": "right", "values": [237, 243, 249, 255, 261, 267], "title": null}},
"y2": {"field": "hi"},
"color": {"field": "lo", "type": "quantitative", "scale": {"type": "threshold", "domain": [240, 243, 246, 249, 252, 255, 258, 261, 264, 267], "range": ["#0b0b0b", "#222222", "#3a3a3a", "#515151", "#686868", "#808080", "#979797", "#aeaeae", "#c5c5c5", "#dddddd", "#f4f4f4"]}, "legend": null}
}
}
]
}
